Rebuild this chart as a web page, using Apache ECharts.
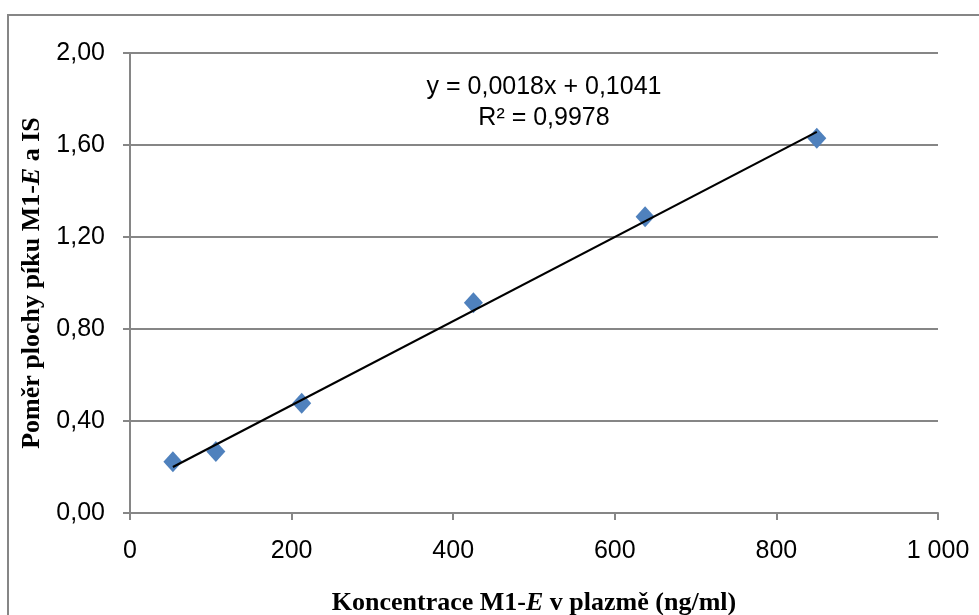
<!DOCTYPE html>
<html>
<head>
<meta charset="utf-8">
<script src="https://cdn.jsdelivr.net/npm/echarts@6/dist/echarts.min.js"></script>
<style>
html,body{margin:0;padding:0;background:#fff;}
#chart{width:979px;height:615px;}
</style>
</head>
<body>
<div id="chart"></div>
<script>
// kalibrace M1-E
var concentrations = [53.1, 106.25, 212.5, 425, 637.5, 850];
var peakRatios = [0.223, 0.267, 0.477, 0.914, 1.288, 1.629];
// konce spojnice trendu
var trendX = [53.1, 850];
var trendY = [0.200, 1.657];
var yTicks = ['0,00', '0,40', '0,80', '1,20', '1,60', '2,00'];
var equationText = 'y = 0,0018x + 0,1041';
var r2Text = 'R² = 0,9978';

var points = concentrations.map(function(x, i){ return [x, peakRatios[i]]; });
var trend = trendX.map(function(x, i){ return [x, trendY[i]]; });

var serif = '"Liberation Serif", "Times New Roman"';
var sans = '"Liberation Sans", Arial';
var titleRich = {
  b: {fontFamily: serif, fontWeight: 'bold', fontSize: 26, color: '#000'},
  i: {fontFamily: serif, fontWeight: 'bold', fontStyle: 'italic', fontSize: 26, color: '#000'}
};

var chart = echarts.init(document.getElementById('chart'));
chart.setOption({
  animation: false,
  backgroundColor: '#fff',
  grid: {left: 130, right: 41, top: 53, bottom: 102, containLabel: false, outerBoundsMode: 'none'},
  graphic: [
    {type: 'rect', shape: {x: 8, y: 15, width: 990, height: 620},
     style: {fill: 'none', stroke: '#868686', lineWidth: 2}, silent: true},
    {type: 'text', x: 544, y: 72, silent: true,
     style: {text: equationText + '\n' + r2Text, align: 'center', verticalAlign: 'top',
       fill: '#000', fontSize: 25, fontFamily: sans, lineHeight: 31}}
  ],
  xAxis: {
    type: 'value', min: 0, max: 1000, interval: 200,
    name: '{b|Koncentrace M1-}{i|E}{b| v plazmě (ng/ml)}',
    nameLocation: 'middle', nameGap: 77,
    nameTextStyle: {rich: titleRich},
    axisLine: {show: true, lineStyle: {color: '#868686', width: 2}},
    axisTick: {show: true, length: 7, inside: false, lineStyle: {color: '#868686', width: 2}},
    axisLabel: {margin: 26, color: '#000', fontSize: 25, fontFamily: sans,
      formatter: function(v){ return v >= 1000 ? (Math.floor(v/1000) + ' ' + ('00' + (v % 1000)).slice(-3)) : String(v); }},
    splitLine: {show: false}
  },
  yAxis: {
    type: 'value', min: 0, max: 2, interval: 0.4,
    name: '{b|Poměr plochy píku M1-}{i|E}{b| a IS}',
    nameLocation: 'middle', nameGap: 85, nameRotate: 90,
    nameTextStyle: {rich: titleRich},
    axisLine: {show: true, lineStyle: {color: '#868686', width: 2}},
    axisTick: {show: true, length: 7, lineStyle: {color: '#868686', width: 2}},
    axisLabel: {margin: 25, color: '#000', fontSize: 25, fontFamily: sans,
      formatter: function(v){ return yTicks[Math.round(v / 0.4)]; }},
    splitLine: {show: true, lineStyle: {color: '#868686', width: 2}}
  },
  series: [
    {type: 'scatter', data: points, symbol: 'diamond', symbolSize: [19, 21],
     itemStyle: {color: '#4F81BD', opacity: 1}, z: 2},
    {type: 'line', data: trend, symbol: 'none', lineStyle: {color: '#000', width: 2.2}, z: 3}
  ]
});
</script>
</body>
</html>
